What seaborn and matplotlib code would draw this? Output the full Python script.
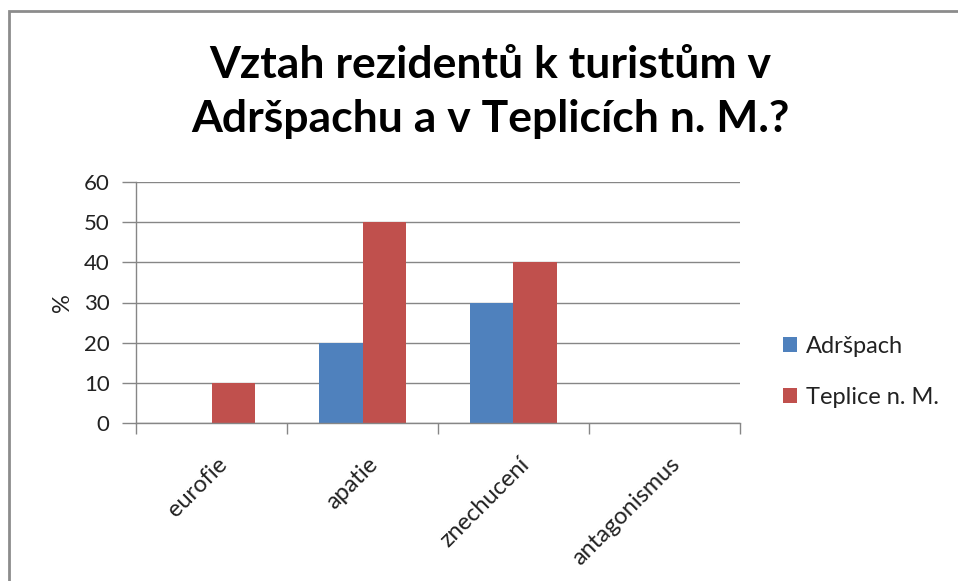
import matplotlib
matplotlib.use("Agg")
import matplotlib.pyplot as plt
import matplotlib.transforms as mtransforms
import pandas as pd
import seaborn as sns
from matplotlib.patches import Rectangle

categories = ["eurofie", "apatie", "znechucení", "antagonismus"]
adrspach = [0, 20, 30, 0]
teplice = [10, 50, 40, 0]
series_names = ["Adršpach", "Teplice n. M."]
colors = ["#4F81BD", "#C0504D"]
yticks = [0, 10, 20, 30, 40, 50, 60]

df = pd.DataFrame({
    "kategorie": categories * 2,
    "hodnota": adrspach + teplice,
    "obec": [series_names[0]] * len(categories) + [series_names[1]] * len(categories),
})

sns.set_theme(style="white")
plt.rcParams["font.family"] = ["Lato", "DejaVu Sans"]

fig = plt.figure(figsize=(9.58, 5.81), dpi=100)
ax = fig.add_axes([136 / 958, 1 - 423 / 581, 604 / 958, 241 / 581])

sns.barplot(data=df, x="kategorie", y="hodnota", hue="obec", palette=colors,
            width=0.575, saturation=1, linewidth=0, ax=ax, legend=True)

ax.set_ylim(0, 60)
ax.set_xlim(-0.5, len(categories) - 0.5)
ax.set_yticks(yticks)
ax.yaxis.grid(True, color="#868686", linewidth=1)
ax.set_axisbelow(True)
for side in ["top", "right"]:
    ax.spines[side].set_visible(False)
for side in ["left", "bottom"]:
    ax.spines[side].set_color("#868686")
    ax.spines[side].set_linewidth(1)

# category separators instead of centered ticks
ax.set_xticks([i - 0.5 for i in range(len(categories) + 1)], minor=True)
ax.tick_params(axis="x", which="minor", length=8, color="#868686", width=1, bottom=True)
ax.tick_params(axis="x", which="major", length=0, pad=22)
ax.tick_params(axis="y", length=10, color="#868686", width=1, left=True, pad=9,
               labelsize=16, labelcolor="#222222")
ax.set_xticks(range(len(categories)))
ax.set_xticklabels(categories, rotation=45, ha="right", rotation_mode="anchor",
                   fontsize=17, color="#222222")
shift = mtransforms.ScaledTranslation(5 / 100, 0, fig.dpi_scale_trans)
for lbl in ax.get_xticklabels():
    lbl.set_transform(lbl.get_transform() + shift)
ax.set_xlabel("")
ax.set_ylabel("%", fontsize=17, color="#222222", labelpad=8)

handles, labels = ax.get_legend_handles_labels()
ax.legend(handles, labels, loc="center left", bbox_to_anchor=(762 / 958, 1 - 372 / 581),
          bbox_transform=fig.transFigure, frameon=False, fontsize=17,
          handlelength=0.6, handleheight=0.6, handletextpad=0.35, labelspacing=1.25,
          labelcolor="#222222")

fig.text(490 / 958, 1 - 92 / 581, "Vztah rezidentů k turistům v\nAdršpachu a v Teplicích n. M.?",
         ha="center", va="center", fontsize=32, fontweight="bold", linespacing=1.4,
         color="black")

# outer chart frame
fig.patches.append(Rectangle((9 / 958, -0.1), 1.2, 1 - 11 / 581 + 0.1, transform=fig.transFigure,
                             fill=False, edgecolor="#8c8c8c", linewidth=2))

fig.savefig("out.png", dpi=100)
plt.close(fig)
